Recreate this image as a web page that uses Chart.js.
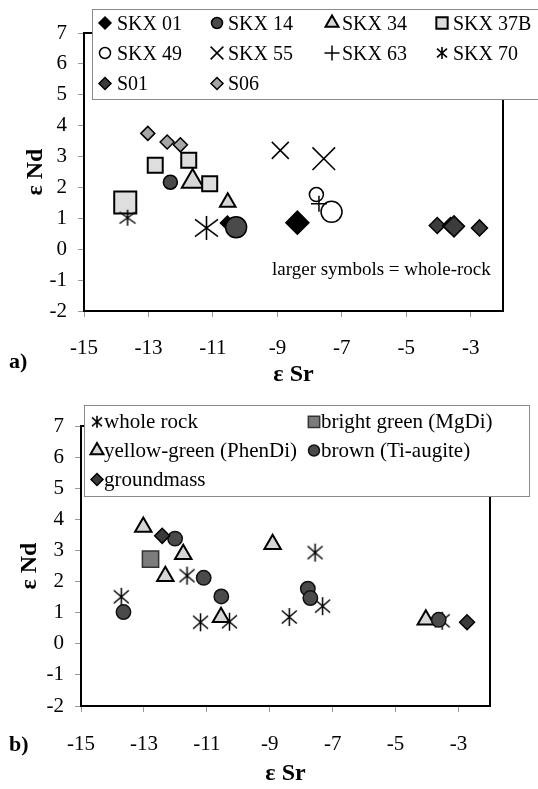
<!DOCTYPE html>
<html>
<head>
<meta charset="utf-8">
<script src="https://cdn.jsdelivr.net/npm/chart.js@4"></script>
<style>
  html, body { margin: 0; padding: 0; background: #fff; }
  body { width: 538px; height: 789px; position: relative; overflow: hidden; }
  .box { position: absolute; left: 0; width: 538px; }
</style>
</head>
<body>
<div class="box" style="top:0;height:395px"><canvas id="c1"></canvas></div>
<div class="box" style="top:395px;height:394px"><canvas id="c2"></canvas></div>
<script>
// ---------------- DATA ----------------
const samples = ['SKX 01', 'SKX 14', 'SKX 34', 'SKX 37B', 'SKX 49', 'SKX 55', 'SKX 63', 'SKX 70', 'S01', 'S06'];
const fractions = ['whole rock', 'bright green (MgDi)', 'yellow-green (PhenDi)', 'brown (Ti-augite)', 'groundmass'];

const pointSample = [
  'SKX 01', 'SKX 01',
  'SKX 14', 'SKX 14',
  'SKX 34', 'SKX 34',
  'SKX 37B', 'SKX 37B', 'SKX 37B', 'SKX 37B',
  'SKX 49', 'SKX 49',
  'SKX 55', 'SKX 55',
  'SKX 63',
  'SKX 70', 'SKX 70',
  'S01', 'S01', 'S01', 'S01',
  'S06', 'S06', 'S06'
];
const pointFraction = [
  'yellow-green (PhenDi)', 'whole rock',
  'yellow-green (PhenDi)', 'whole rock',
  'brown (Ti-augite)', 'whole rock',
  'bright green (MgDi)', 'yellow-green (PhenDi)', 'brown (Ti-augite)', 'whole rock',
  'brown (Ti-augite)', 'whole rock',
  'yellow-green (PhenDi)', 'whole rock',
  'brown (Ti-augite)',
  'brown (Ti-augite)', 'whole rock',
  'yellow-green (PhenDi)', 'brown (Ti-augite)', 'whole rock', 'groundmass',
  'yellow-green (PhenDi)', 'groundmass', 'brown (Ti-augite)'
];
const epsSr = [
  -10.55, -8.38,
  -12.32, -10.28,
  -10.54, -11.63,
  -12.79, -11.75, -11.10, -13.72,
  -7.79, -7.32,
  -8.91, -7.56,
  -7.71,
  -13.65, -11.20,
  -4.04, -3.63, -3.52, -2.73,
  -13.02, -12.42, -12.01
];
const epsNd = [
  0.85, 0.86,
  2.17, 0.71,
  1.52, 2.19,
  2.72, 2.88, 2.12, 1.51,
  1.77, 1.21,
  3.20, 2.93,
  1.47,
  1.02, 0.69,
  0.77, 0.77, 0.74, 0.69,
  3.75, 3.47, 3.38
];

const xTickValues = [-15, -13, -11, -9, -7, -5, -3];
const xMin = -15, xMax = -2;
const yMin = -2, yMax = 7, yStep = 1;

const xTitle = 'ε Sr';
const yTitle = 'ε Nd';
const noteText = 'larger symbols = whole-rock';
const panelA = 'a)';
const panelB = 'b)';

// ---------------- STYLES ----------------
const SERIF = '"Liberation Serif", "Times New Roman", serif';

function asterisk(w, h, lw) {
  const c = document.createElement('canvas');
  const pad = 2;
  c.width = Math.ceil(w + pad * 2);
  c.height = Math.ceil(h + pad * 2);
  const g = c.getContext('2d');
  const cx = c.width / 2, cy = c.height / 2;
  g.strokeStyle = '#000';
  g.lineWidth = lw;
  g.beginPath();
  g.moveTo(cx, cy - h / 2); g.lineTo(cx, cy + h / 2);
  g.moveTo(cx - w / 2, cy - h * 0.36); g.lineTo(cx + w / 2, cy + h * 0.36);
  g.moveTo(cx - w / 2, cy + h * 0.36); g.lineTo(cx + w / 2, cy - h * 0.36);
  g.stroke();
  return c;
}

// per-sample style for panel a: [small radius, large radius]
const styleA = {
  'SKX 01':  { ps: 'rectRot',  fill: '#000000', stroke: '#000', bw: 1.5, r: [7, 11.5], lr: 6 },
  'SKX 14':  { ps: 'circle',   fill: '#4a4a4a', stroke: '#000', bw: 1.5, r: [7, 10.5], lr: 5.5 },
  'SKX 34':  { ps: 'triangle', fill: '#d6d6d6', stroke: '#000', bw: 2,   r: [9, 12.5], lr: 7.5 },
  'SKX 37B': { ps: 'rect',     fill: '#dedede', stroke: '#000', bw: 2,   r: [10.6, 15.6], lr: 8 },
  'SKX 49':  { ps: 'circle',   fill: '#ffffff', stroke: '#000', bw: 1.5, r: [7, 10.5], lr: 5.5 },
  'SKX 55':  { ps: 'crossRot', fill: '#000',    stroke: '#000', bw: 1.5, r: [12, 16], lr: 9 },
  'SKX 63':  { ps: 'cross',    fill: '#000',    stroke: '#000', bw: 1.5, r: [8, 11], lr: 7.5 },
  'SKX 70':  { ps: [asterisk(16, 16, 1.5), asterisk(23, 24, 1.6)], legendImg: asterisk(10, 12, 1.6), fill: '#000', stroke: '#000', bw: 1.5, r: [8, 12], lr: 6 },
  'S01':     { ps: 'rectRot',  fill: '#3c3c3c', stroke: '#000', bw: 1.5, r: [8, 10.5], lr: 6 },
  'S06':     { ps: 'rectRot',  fill: '#a6a6a6', stroke: '#000', bw: 1.5, r: [7, 7.5], lr: 6 }
};

const styleB = {
  'whole rock':            { ps: asterisk(15, 18, 1.5), legendImg: asterisk(10, 12, 1.6), fill: '#000', stroke: '#000', bw: 1.5, r: 8, lr: 6 },
  'bright green (MgDi)':   { ps: 'rect',     fill: '#7c7c7c', stroke: '#333', bw: 1.5, r: 11.5, lr: 8 },
  'yellow-green (PhenDi)': { ps: 'triangle', fill: '#d6d6d6', stroke: '#000', bw: 2,   r: 9.5,  lr: 7.5 },
  'brown (Ti-augite)':     { ps: 'circle',   fill: '#4a4a4a', stroke: '#111', bw: 1.5, r: 7.2,  lr: 5.5 },
  'groundmass':            { ps: 'rectRot',  fill: '#3a3a3a', stroke: '#000', bw: 1.5, r: 7.5,  lr: 6 }
};

// ---------------- DATASETS ----------------
function pts(filter) {
  const out = [];
  for (let i = 0; i < epsSr.length; i++) if (filter(i)) out.push({ x: epsSr[i], y: epsNd[i] });
  return out;
}

const dsA = [];
samples.forEach(s => {
  const st = styleA[s];
  [false, true].forEach(isWhole => {
    const data = pts(i => pointSample[i] === s && ((pointFraction[i] === 'whole rock') === isWhole));
    if (!data.length) return;
    const k = isWhole ? 1 : 0;
    const ps = Array.isArray(st.ps) ? st.ps[k] : st.ps;
    dsA.push({
      label: s, data,
      pointStyle: ps, pointRadius: st.r[k], pointHoverRadius: st.r[k],
      backgroundColor: st.fill, borderColor: st.stroke, borderWidth: st.bw,
      pointBackgroundColor: st.fill, pointBorderColor: st.stroke, pointBorderWidth: st.bw,
      showLine: false
    });
  });
});
dsA.forEach((d, i) => d.order = -i);

const dsB = fractions.map((f, i) => {
  const st = styleB[f];
  return {
    label: f, data: pts(j => pointFraction[j] === f),
    pointStyle: st.ps, pointRadius: st.r, pointHoverRadius: st.r,
    backgroundColor: st.fill, borderColor: st.stroke, borderWidth: st.bw,
    pointBackgroundColor: st.fill, pointBorderColor: st.stroke, pointBorderWidth: st.bw,
    showLine: false, order: -i
  };
});

// ---------------- DRAW HELPERS ----------------
function drawMarker(ctx, st, x, y) {
  const r = st.lr;
  ctx.save();
  if (st.legendImg) {
    ctx.drawImage(st.legendImg, x - st.legendImg.width / 2, y - st.legendImg.height / 2);
    ctx.restore();
    return;
  }
  ctx.fillStyle = st.fill;
  ctx.strokeStyle = st.stroke;
  ctx.lineWidth = st.bw;
  ctx.beginPath();
  const ps = Array.isArray(st.ps) ? st.ps[0] : st.ps;
  if (ps === 'circle') {
    ctx.arc(x, y, r, 0, Math.PI * 2);
    ctx.fill(); ctx.stroke();
  } else if (ps === 'rectRot') {
    ctx.moveTo(x, y - r); ctx.lineTo(x + r, y); ctx.lineTo(x, y + r); ctx.lineTo(x - r, y); ctx.closePath();
    ctx.fill(); ctx.stroke();
  } else if (ps === 'rect') {
    const h = r * Math.SQRT1_2;
    ctx.rect(x - h, y - h, 2 * h, 2 * h);
    ctx.fill(); ctx.stroke();
  } else if (ps === 'triangle') {
    ctx.moveTo(x, y - r);
    ctx.lineTo(x + r * Math.sin(2 * Math.PI / 3), y - r * Math.cos(2 * Math.PI / 3));
    ctx.lineTo(x + r * Math.sin(4 * Math.PI / 3), y - r * Math.cos(4 * Math.PI / 3));
    ctx.closePath();
    ctx.fill(); ctx.stroke();
  } else if (ps === 'crossRot') {
    const h = r * Math.SQRT1_2;
    ctx.moveTo(x - h, y - h); ctx.lineTo(x + h, y + h);
    ctx.moveTo(x - h, y + h); ctx.lineTo(x + h, y - h);
    ctx.stroke();
  } else if (ps === 'cross') {
    ctx.moveTo(x - r, y); ctx.lineTo(x + r, y);
    ctx.moveTo(x, y - r); ctx.lineTo(x, y + r);
    ctx.stroke();
  }
  ctx.restore();
}

function drawLegend(ctx, box, items, fontSize) {
  ctx.save();
  ctx.fillStyle = '#fff';
  ctx.fillRect(box.x, box.y, box.w, box.h);
  ctx.strokeStyle = '#8a8a8a';
  ctx.lineWidth = 1;
  ctx.strokeRect(box.x + 0.5, box.y + 0.5, box.w, box.h);
  ctx.font = fontSize + 'px ' + SERIF;
  ctx.textAlign = 'left';
  ctx.textBaseline = 'alphabetic';
  items.forEach(it => {
    drawMarker(ctx, it.st, it.mx, it.base - 6.5);
    ctx.fillStyle = '#000';
    ctx.fillText(it.text, it.tx, it.base);
  });
  ctx.restore();
}

const framePlugin = {
  id: 'frame',
  beforeDatasetsDraw(chart) {
    const { ctx, chartArea: a } = chart;
    ctx.save();
    ctx.strokeStyle = '#000';
    ctx.lineWidth = 2;
    ctx.strokeRect(a.left, a.top, a.right - a.left, a.bottom - a.top);
    ctx.restore();
  }
};

function makeOptions(cfg) {
  return {
    responsive: true,
    maintainAspectRatio: false,
    animation: false,
    devicePixelRatio: 1,
    layout: { padding: { left: 0, top: cfg.top, right: cfg.right, bottom: 0 } },
    plugins: { legend: { display: false }, tooltip: { enabled: false } },
    events: [],
    scales: {
      x: {
        type: 'linear', position: 'bottom', min: xMin, max: xMax,
        afterBuildTicks: a => { a.ticks = xTickValues.map(v => ({ value: v })); },
        afterFit: a => { a.height = cfg.xh; },
        ticks: { font: { family: SERIF, size: 21, lineHeight: 1 }, color: '#000', padding: cfg.xtp, maxRotation: 0, autoSkip: false },
        grid: { drawOnChartArea: false, drawTicks: true, tickLength: 6, color: '#9a9a9a', lineWidth: 1 },
        border: { display: true, color: '#000', width: 2 },
        title: { display: true, text: xTitle, color: '#000', font: { family: SERIF, size: 24, weight: 'bold', lineHeight: 1 }, padding: { top: 0, bottom: cfg.xtitle } }
      },
      y: {
        type: 'linear', position: 'left', min: yMin, max: yMax,
        afterFit: a => { a.width = cfg.yw; },
        ticks: { stepSize: yStep, font: { family: SERIF, size: 21, lineHeight: 1 }, color: '#000', padding: cfg.ytp },
        grid: { drawOnChartArea: false, drawTicks: true, tickLength: 6, color: '#9a9a9a', lineWidth: 1 },
        border: { display: true, color: '#000', width: 2 },
        title: { display: true, text: yTitle, color: '#000', font: { family: SERIF, size: 24, weight: 'bold', lineHeight: 1 }, padding: { top: cfg.ytitle, bottom: 0 } }
      }
    }
  };
}

// ---------------- CHART A ----------------
const colXA = [105, 217, 332, 442];
const colTA = [117, 228, 342, 453];
const rowBaseA = [29.5, 59.5, 90];

const annotA = {
  id: 'annotA',
  afterDraw(chart) {
    const ctx = chart.ctx;
    const items = samples.map((s, i) => ({
      st: styleA[s], text: s,
      mx: colXA[i % 4], tx: colTA[i % 4], base: rowBaseA[Math.floor(i / 4)]
    }));
    drawLegend(ctx, { x: 92, y: 9, w: 460, h: 90 }, items, 20);
    ctx.save();
    ctx.fillStyle = '#000';
    ctx.font = '19px ' + SERIF;
    ctx.textBaseline = 'middle';
    ctx.fillText(noteText, 272, 270);
    ctx.font = 'bold 22px ' + SERIF;
    ctx.fillText(panelA, 9, 362);
    ctx.restore();
  }
};

new Chart(document.getElementById('c1'), {
  type: 'scatter',
  data: { datasets: dsA },
  options: makeOptions({ top: 33, right: 35, xh: 84, xtp: 21, xtitle: 8, yw: 84, ytp: 11, ytitle: 24 }),
  plugins: [framePlugin, annotA]
});

// ---------------- CHART B ----------------
const colXB = [97, 314];
const colTB = [104, 321];
const rowBaseB = [33.3, 62, 91];

const annotB = {
  id: 'annotB',
  afterDraw(chart) {
    const ctx = chart.ctx;
    const items = fractions.map((f, i) => ({
      st: styleB[f], text: f,
      mx: colXB[i % 2], tx: colTB[i % 2], base: rowBaseB[Math.floor(i / 2)]
    }));
    drawLegend(ctx, { x: 84, y: 10, w: 445, h: 91 }, items, 21);
    ctx.save();
    ctx.fillStyle = '#000';
    ctx.font = 'bold 22px ' + SERIF;
    ctx.textBaseline = 'middle';
    ctx.fillText(panelB, 9, 350);
    ctx.restore();
  }
};

new Chart(document.getElementById('c2'), {
  type: 'scatter',
  data: { datasets: dsB },
  options: makeOptions({ top: 31, right: 48, xh: 83, xtp: 22, xtitle: 3, yw: 81, ytp: 11, ytitle: 18 }),
  plugins: [framePlugin, annotB]
});
</script>
</body>
</html>
